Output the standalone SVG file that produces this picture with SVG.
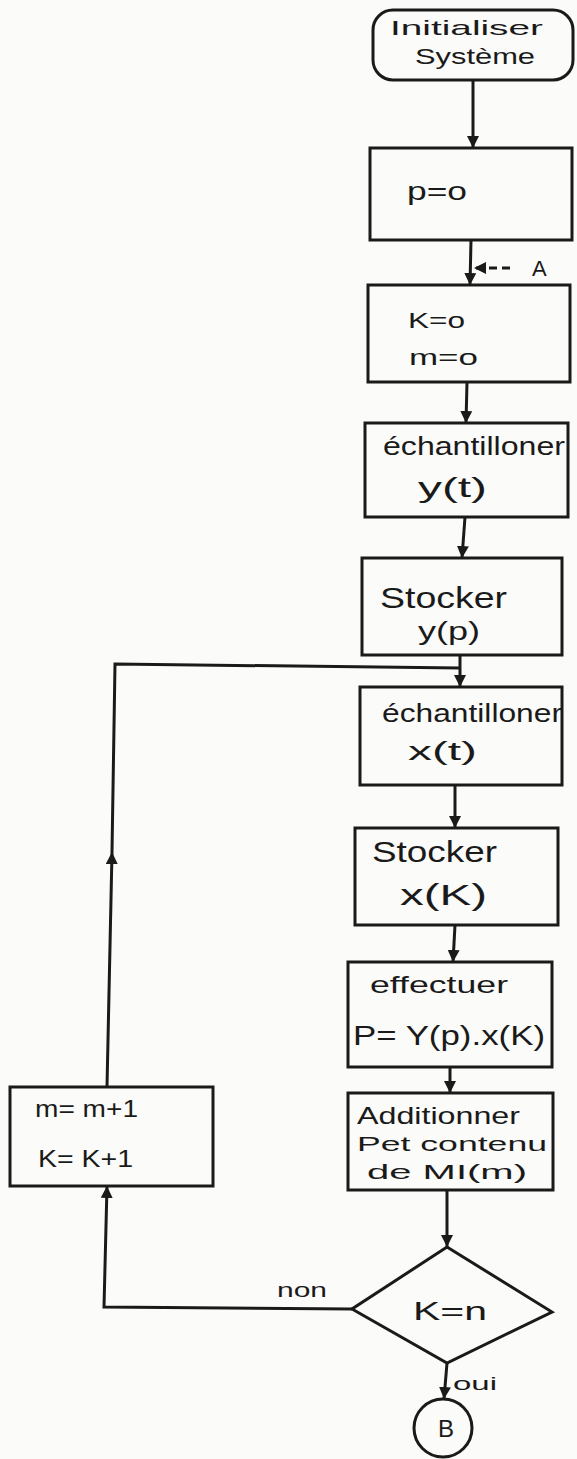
<svg xmlns="http://www.w3.org/2000/svg" width="577" height="1459" viewBox="0 0 577 1459">
<style>
.n{fill:none;stroke:#1a1a1a;stroke-width:3}
.c{fill:none;stroke:#1a1a1a;stroke-width:3}
.t{font-family:"Liberation Sans",Arial,sans-serif;fill:#1a1a1a}
</style>
<defs>
<marker id="ah" viewBox="0 0 10 10" refX="10" refY="5" markerWidth="12" markerHeight="12" markerUnits="userSpaceOnUse" orient="auto">
<path d="M0,0 L10,5 L0,10 Z" fill="#1a1a1a"/>
</marker>
</defs>
<rect width="577" height="1459" fill="#fbfbf9"/>
<g id="start"><rect class="n" x="373" y="10" width="200" height="70" rx="20"/>
<text class="t" x="390" y="35" font-size="21" textLength="153" lengthAdjust="spacingAndGlyphs">Initialiser</text>
<text class="t" x="415" y="64" font-size="22" textLength="120" lengthAdjust="spacingAndGlyphs">Système</text></g>
<g id="p0"><rect class="n" x="370" y="148" width="202" height="92"/>
<text class="t" x="407" y="200" font-size="26" textLength="60" lengthAdjust="spacingAndGlyphs">p=o</text></g>
<g id="km0"><rect class="n" x="368" y="285" width="202" height="97"/>
<text class="t" x="408" y="328" font-size="22" textLength="57" lengthAdjust="spacingAndGlyphs">K=o</text>
<text class="t" x="409" y="365" font-size="22" textLength="69" lengthAdjust="spacingAndGlyphs">m=o</text></g>
<g id="echy"><rect class="n" x="365" y="423" width="203" height="94"/>
<text class="t" x="383" y="455" font-size="26" textLength="182" lengthAdjust="spacingAndGlyphs">échantilloner</text>
<text class="t" x="418" y="497" font-size="28" textLength="69" lengthAdjust="spacingAndGlyphs">y(t)</text></g>
<g id="stocky"><rect class="n" x="362" y="558" width="200" height="97"/>
<text class="t" x="380" y="608" font-size="30" textLength="127" lengthAdjust="spacingAndGlyphs">Stocker</text>
<text class="t" x="418" y="640" font-size="26" textLength="62" lengthAdjust="spacingAndGlyphs">y(p)</text></g>
<g id="echx"><rect class="n" x="360" y="687" width="202" height="98"/>
<text class="t" x="382" y="722" font-size="26" textLength="180" lengthAdjust="spacingAndGlyphs">échantilloner</text>
<text class="t" x="408" y="760" font-size="26" textLength="69" lengthAdjust="spacingAndGlyphs">x(t)</text></g>
<g id="stockx"><rect class="n" x="355" y="828" width="203" height="97"/>
<text class="t" x="372" y="862" font-size="29" textLength="125" lengthAdjust="spacingAndGlyphs">Stocker</text>
<text class="t" x="400" y="905" font-size="30" textLength="87" lengthAdjust="spacingAndGlyphs">x(K)</text></g>
<g id="effectuer"><rect class="n" x="348" y="962" width="204" height="105"/>
<text class="t" x="370" y="993" font-size="24" textLength="138" lengthAdjust="spacingAndGlyphs">effectuer</text>
<text class="t" x="353" y="1045" font-size="28" textLength="192" lengthAdjust="spacingAndGlyphs">P= Y(p).x(K)</text></g>
<g id="additionner"><rect class="n" x="348" y="1093" width="205" height="97"/>
<text class="t" x="357" y="1124" font-size="24" textLength="163" lengthAdjust="spacingAndGlyphs">Additionner</text>
<text class="t" x="357" y="1151" font-size="21" textLength="190" lengthAdjust="spacingAndGlyphs">Pet contenu</text>
<text class="t" x="367" y="1179" font-size="21" textLength="160" lengthAdjust="spacingAndGlyphs">de MI(m)</text></g>
<g id="test"><path class="n" d="M447,1247 L552,1312 L447,1363 L352,1309 Z"/>
<text class="t" x="413" y="1320" font-size="26" textLength="74" lengthAdjust="spacingAndGlyphs">K=n</text></g>
<g id="B"><circle class="n" cx="443" cy="1428" r="29"/>
<text class="t" x="446" y="1437" font-size="24" text-anchor="middle">B</text></g>
<g id="incr"><rect class="n" x="10" y="1087" width="203" height="99"/>
<text class="t" x="35" y="1117" font-size="24" textLength="103" lengthAdjust="spacingAndGlyphs">m= m+1</text>
<text class="t" x="38" y="1167" font-size="24" textLength="95" lengthAdjust="spacingAndGlyphs">K= K+1</text></g>
<g id="connectors">
<path class="c" d="M473,80 L473,148" marker-end="url(#ah)"/>
<path class="c" d="M471,240 L470,285" marker-end="url(#ah)"/>
<path class="c" d="M510,268 L474,268" stroke-dasharray="8,5" marker-end="url(#ah)"/>
<path class="c" d="M467,382 L466,423" marker-end="url(#ah)"/>
<path class="c" d="M465,517 L462,558" marker-end="url(#ah)"/>
<path class="c" d="M460,655 L460,687" marker-end="url(#ah)"/>
<path class="c" d="M455,785 L455,828" marker-end="url(#ah)"/>
<path class="c" d="M455,925 L453,962" marker-end="url(#ah)"/>
<path class="c" d="M450,1067 L450,1093" marker-end="url(#ah)"/>
<path class="c" d="M447,1190 L447,1247" marker-end="url(#ah)"/>
<path class="c" d="M447,1363 L444,1399" marker-end="url(#ah)"/>
<path class="c" d="M352,1309 L104,1307 L107,1186" marker-end="url(#ah)"/>
<path class="c" d="M107,1087 L112,852" marker-end="url(#ah)"/>
<path class="c" d="M112,852 L115,664 L460,668"/>
<text class="t" x="532" y="276" font-size="22">A</text>
<text class="t" x="277" y="1297" font-size="20" textLength="50" lengthAdjust="spacingAndGlyphs">non</text>
<text class="t" x="453" y="1390" font-size="18" textLength="44" lengthAdjust="spacingAndGlyphs">oui</text>
</g>
</svg>
